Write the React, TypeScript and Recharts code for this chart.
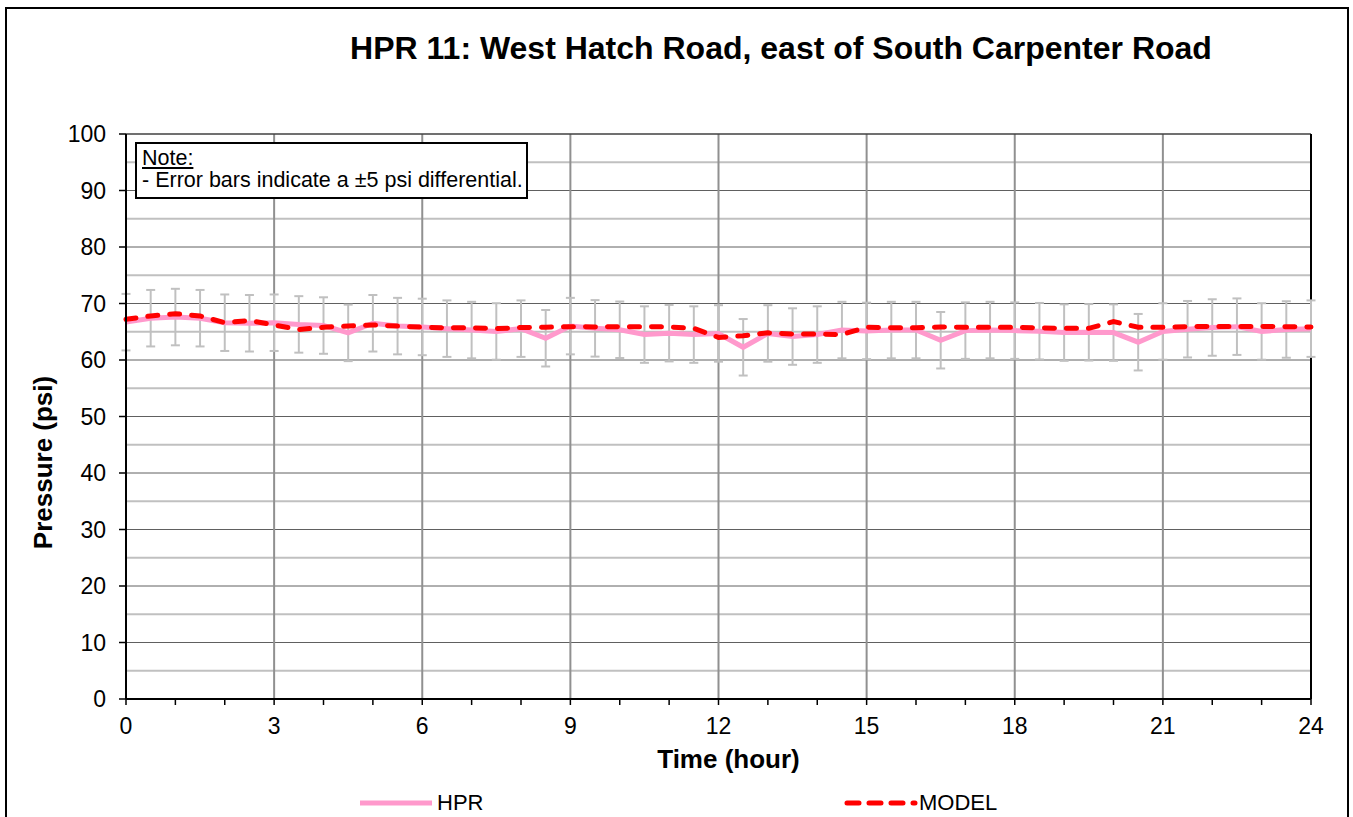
import React from 'react';
import { ComposedChart, Line, XAxis, YAxis, ReferenceLine, ErrorBar, Legend, Label } from 'recharts';

const hours = [0, 0.5, 1, 1.5, 2, 2.5, 3, 3.5, 4, 4.5, 5, 5.5, 6, 6.5, 7, 7.5, 8, 8.5, 9, 9.5, 10, 10.5, 11, 11.5, 12, 12.5, 13, 13.5, 14, 14.5, 15, 15.5, 16, 16.5, 17, 17.5, 18, 18.5, 19, 19.5, 20, 20.5, 21, 21.5, 22, 22.5, 23, 23.5, 24];
const hprValues = [66.7, 67.4, 67.6, 67.4, 66.6, 66.5, 66.6, 66.3, 66.1, 64.8, 66.5, 66.0, 65.85, 65.55, 65.3, 65.05, 65.55, 63.85, 66.0, 65.6, 65.35, 64.5, 64.75, 64.5, 64.7, 62.25, 64.7, 64.15, 64.5, 65.3, 65.15, 65.3, 65.3, 63.5, 65.2, 65.3, 65.2, 65.1, 64.85, 64.9, 64.85, 63.15, 65.05, 65.45, 65.75, 65.9, 65.05, 65.4, 65.55];
const modelValues = [67.2, 67.8, 68.2, 67.8, 66.6, 67.0, 66.2, 65.4, 65.8, 66.0, 66.2, 66.0, 65.8, 65.7, 65.7, 65.55, 65.75, 65.8, 65.9, 65.85, 65.9, 65.9, 65.85, 65.6, 64.0, 64.3, 64.8, 64.6, 64.6, 64.5, 65.8, 65.7, 65.7, 65.85, 65.8, 65.8, 65.8, 65.7, 65.6, 65.6, 66.8, 65.8, 65.8, 65.9, 65.95, 65.95, 65.95, 65.9, 65.85];
const errorMargin = 5;

const xTicks = [0, 1, 2, 3, 4, 5, 6, 7, 8, 9, 10, 11, 12, 13, 14, 15, 16, 17, 18, 19, 20, 21, 22, 23, 24];
const xGridLines = [3, 6, 9, 12, 15, 18, 21];
const yTicks = [0, 10, 20, 30, 40, 50, 60, 70, 80, 90, 100];
const yMajorLines = [10, 20, 30, 40, 50, 60, 70, 80, 90];
const yMinorLines = [5, 15, 25, 35, 45, 55, 65, 75, 85, 95];

const titleText = 'HPR 11: West Hatch Road, east of South Carpenter Road';
const xLabelText = 'Time (hour)';
const yLabelText = 'Pressure (psi)';
const noteTitle = 'Note:';
const noteText = '- Error bars indicate a \u00b15 psi differential.';

const data = hours.map((h, i) => ({ hour: h, hpr: hprValues[i], model: modelValues[i], err: errorMargin }));

const FONT = "'Liberation Sans', Arial, sans-serif";

const LegendContent = () => (
  <div style={{ position: 'relative', width: 1353, height: 24, fontFamily: FONT, fontSize: 22, color: '#000' }}>
    <svg style={{ position: 'absolute', left: 358, top: 0 }} width={78} height={24}>
      <line x1={2} y1={12} x2={74} y2={12} stroke="#FF99CC" strokeWidth={5} />
    </svg>
    <span style={{ position: 'absolute', left: 437, top: 0, lineHeight: '24px' }}>HPR</span>
    <svg style={{ position: 'absolute', left: 842, top: 0 }} width={78} height={24}>
      <line x1={5} y1={12} x2={73} y2={12} stroke="#FF0000" strokeWidth={5} strokeDasharray="12 10" strokeLinecap="round" />
    </svg>
    <span style={{ position: 'absolute', left: 919, top: 0, lineHeight: '24px' }}>MODEL</span>
  </div>
);

export default function App() {
  return (
    <div style={{ position: 'absolute', left: 0, top: 0, width: 1353, height: 817, overflow: 'hidden', background: '#fff', fontFamily: FONT }}>
      <div style={{ position: 'absolute', left: 5, top: 7, width: 1344, height: 840, border: '2px solid #000', boxSizing: 'border-box' }} />
      <div style={{ position: 'absolute', left: 0, top: 0 }}>
        <ComposedChart width={1353} height={817} data={data} margin={{ top: 134, right: 42, left: 36, bottom: 88 }}>
          {yMinorLines.map((v) => (
            <ReferenceLine key={'mi' + v} y={v} stroke="#c0c0c0" strokeWidth={2} />
          ))}
          {yMajorLines.map((v) => (
            <ReferenceLine key={'ma' + v} y={v} stroke="#606060" strokeWidth={1} />
          ))}
          {xGridLines.map((v) => (
            <ReferenceLine key={'vx' + v} x={v} stroke="#909090" strokeWidth={2} />
          ))}
          <ReferenceLine y={100} stroke="#404040" strokeWidth={1.5} />
          <ReferenceLine x={24} stroke="#000" strokeWidth={2} />
          <XAxis
            dataKey="hour"
            type="number"
            domain={[0, 24]}
            ticks={xTicks}
            interval={0}
            height={30}
            tickSize={6}
            tickMargin={13}
            tickFormatter={(v: number) => (v % 3 === 0 ? String(v) : '')}
            tick={{ fill: '#000', fontSize: 23, fontFamily: FONT }}
            axisLine={{ stroke: '#000', strokeWidth: 2 }}
            tickLine={{ stroke: '#000', strokeWidth: 1.5 }}
          >
            <Label
              content={({ viewBox }: any) => (
                <text x={viewBox.x + viewBox.width / 2 + 10} y={768} textAnchor="middle" fontFamily={FONT} fontSize={26} fontWeight="bold" fill="#000">
                  {xLabelText}
                </text>
              )}
            />
          </XAxis>
          <YAxis
            type="number"
            domain={[0, 100]}
            ticks={yTicks}
            interval={0}
            width={90}
            tickSize={7}
            tickMargin={13}
            tick={{ fill: '#000', fontSize: 23, fontFamily: FONT }}
            axisLine={{ stroke: '#000', strokeWidth: 2 }}
            tickLine={{ stroke: '#000', strokeWidth: 1.5 }}
          >
            <Label
              content={({ viewBox }: any) => {
                const cx = 52;
                const cy = viewBox.y + viewBox.height / 2 + 46;
                return (
                  <text x={cx} y={cy} transform={`rotate(-90 ${cx} ${cy})`} textAnchor="middle" fontFamily={FONT} fontSize={26} fontWeight="bold" fill="#000">
                    {yLabelText}
                  </text>
                );
              }}
            />
          </YAxis>
          <Line dataKey="hpr" type="linear" stroke="none" dot={false} activeDot={false} legendType="none" isAnimationActive={false}>
            <ErrorBar dataKey="err" direction="y" width={4.5} stroke="#c0c0c0" strokeWidth={2} />
          </Line>
          <Line dataKey="hpr" name="HPR" type="linear" stroke="#FF99CC" strokeWidth={5} dot={false} activeDot={false} isAnimationActive={false} />
          <Line dataKey="model" name="MODEL" type="linear" stroke="#FF0000" strokeWidth={5} strokeDasharray="10 12" strokeLinecap="round" dot={false} activeDot={false} isAnimationActive={false} />
          <Legend
            layout="horizontal"
            verticalAlign="middle"
            align="center"
            wrapperStyle={{ left: 0, top: 791, width: 1353, height: 24 }}
            content={() => <LegendContent />}
          />
        </ComposedChart>
      </div>
      <div style={{ position: 'absolute', left: 281, top: 30, width: 1000, textAlign: 'center', fontSize: 32, fontWeight: 'bold', lineHeight: '37px', color: '#000' }}>
        {titleText}
      </div>
      <div style={{ position: 'absolute', left: 135, top: 142, width: 393, height: 57, border: '2px solid #000', boxSizing: 'border-box', background: '#fff', fontSize: 21.5, lineHeight: '22px', paddingTop: 3, paddingLeft: 5, color: '#000', whiteSpace: 'nowrap' }}>
        <div style={{ textDecoration: 'underline' }}>{noteTitle}</div>
        <div>{noteText}</div>
      </div>
    </div>
  );
}
